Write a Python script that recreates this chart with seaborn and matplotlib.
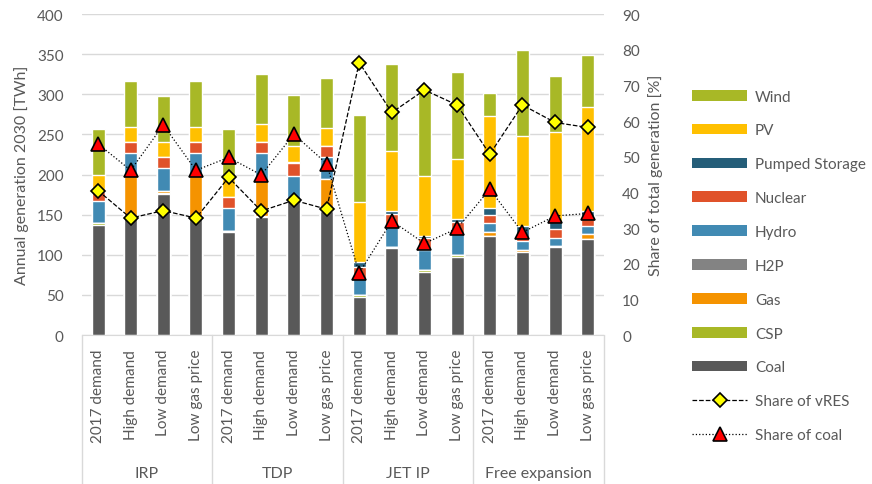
import numpy as np
import pandas as pd
import matplotlib
matplotlib.use('Agg')
from matplotlib import pyplot as plt
from matplotlib.patches import Patch
from matplotlib.lines import Line2D
import seaborn as sns

sns.set_style('white')
plt.rcParams['font.family'] = ['Lato', 'DejaVu Sans']
plt.rcParams['font.size'] = 11

# scenario layout
groups = ['IRP', 'TDP', 'JET IP', 'Free expansion']
cases = ['2017 demand', 'High demand', 'Low demand', 'Low gas price']

# annual generation per technology [TWh], 16 scenarios in order
coal = [137.6, 146.7, 175.8, 146.7, 128.0, 146.7, 169.6, 155.0,
        47.8, 108.0, 79.0, 97.7, 123.9, 103.0, 109.3, 119.7]
csp = [1.6, 0.0, 0.8, 0.0, 1.3, 1.2, 0.0, 1.0,
       1.7, 1.7, 1.6, 2.5, 0.0, 0.0, 0.0, 0.0]
gas = [0.0, 51.1, 3.0, 51.1, 0.0, 44.5, 0.0, 38.1,
       0.0, 0.0, 0.0, 0.0, 4.1, 2.6, 1.7, 6.3]
h2p = [0.0] * 16
hydro = [28.3, 29.1, 28.2, 29.1, 28.6, 34.1, 29.1, 28.3,
         20.3, 24.5, 25.8, 25.3, 11.2, 11.2, 10.4, 10.3]
nuclear = [11.2, 14.2, 14.6, 14.2, 13.8, 14.6, 15.3, 13.6,
           15.4, 16.7, 14.1, 15.8, 10.4, 4.6, 10.8, 8.3]
pumped = [0.0, 0.0, 0.0, 0.0, 0.0, 0.0, 1.2, 0.0,
          5.4, 4.1, 3.4, 3.3, 8.7, 14.1, 8.3, 10.4]
pv = [20.8, 18.3, 18.7, 18.3, 22.8, 22.0, 20.8, 22.0,
      75.7, 74.0, 74.8, 74.4, 114.4, 112.2, 112.2, 129.7]
wind = [57.0, 56.9, 56.9, 56.9, 61.9, 62.3, 63.3, 62.9,
        108.4, 109.0, 107.6, 108.5, 29.0, 108.1, 69.8, 64.5]

# shares of total generation [%]
share_vres = [40.5, 32.8, 34.9, 32.8, 44.2, 34.8, 37.8, 35.3,
              76.4, 62.4, 68.7, 64.5, 50.7, 64.5, 59.6, 58.2]
share_coal = [53.6, 46.2, 58.9, 46.2, 49.8, 44.9, 56.3, 48.1,
              17.4, 32.0, 25.7, 29.9, 40.9, 28.8, 33.4, 34.1]

techs = ['Coal', 'CSP', 'Gas', 'H2P', 'Hydro', 'Nuclear', 'Pumped Storage', 'PV', 'Wind']
colors = {'Coal': '#595959', 'CSP': '#A8B826', 'Gas': '#F59300', 'H2P': '#838383',
          'Hydro': '#418AB3', 'Nuclear': '#E0522A', 'Pumped Storage': '#255E79',
          'PV': '#FFC000', 'Wind': '#A8B826'}

df = pd.DataFrame({'Coal': coal, 'CSP': csp, 'Gas': gas, 'H2P': h2p, 'Hydro': hydro,
                   'Nuclear': nuclear, 'Pumped Storage': pumped, 'PV': pv, 'Wind': wind})
df['key'] = [g + '|' + c for g in groups for c in cases]
keys = list(df['key'])
cum = df[techs].cumsum(axis=1)
for t in techs:
    df['top_' + t] = cum[t]

fig, ax = plt.subplots(figsize=(8.72, 4.85), dpi=100)
fig.subplots_adjust(left=0.0937, right=0.6927, top=0.969, bottom=0.307)

# stacked bars by overplotting cumulative totals, top segment first
for t in techs[::-1]:
    sns.barplot(data=df, x='key', y='top_' + t, order=keys, color=colors[t],
                width=0.4, saturation=1, errorbar=None, ax=ax, zorder=2)

grey = '#595959'
ax.set_ylim(0, 400)
ax.set_yticks(range(0, 401, 50))
ax.grid(axis='y', color='#D9D9D9', lw=1)
ax.set_axisbelow(True)
ax.set_ylabel('Annual generation 2030 [TWh]', color=grey, fontsize=11.5, labelpad=6)
ax.set_xlabel('')
ax.set_xticks(range(16))
ax.set_xticklabels(cases * 4, rotation=90, color=grey)
ax.tick_params(axis='x', length=0, pad=10)
ax.tick_params(axis='y', length=0, pad=13, colors=grey)
for s in ['left', 'right', 'top']:
    ax.spines[s].set_visible(False)
ax.spines['bottom'].set_color('#D9D9D9')

ax2 = ax.twinx()
pos = np.arange(16)
sns.lineplot(x=pos, y=share_vres, ax=ax2, color='black', lw=0.9, linestyle='--',
             marker='D', markersize=7, markerfacecolor='#FFFF00',
             markeredgecolor='black', markeredgewidth=1.2, zorder=5)
sns.lineplot(x=pos, y=share_coal, ax=ax2, color='black', lw=0.9, linestyle=':',
             marker='^', markersize=10, markerfacecolor='#FF0000',
             markeredgecolor='black', markeredgewidth=1.2, zorder=5)
ax2.set_ylim(0, 90)
ax2.set_yticks(range(0, 91, 10))
ax2.set_ylabel('Share of total generation [%]', color=grey, fontsize=11.5, labelpad=6)
ax2.tick_params(axis='y', length=0, pad=13, colors=grey)
for s in ['left', 'right', 'top', 'bottom']:
    ax2.spines[s].set_visible(False)
ax.set_xlim(-0.5, 15.5)

# category box below the axis
trans = ax.get_xaxis_transform()
for b in [-0.5, 3.5, 7.5, 11.5, 15.5]:
    ax.plot([b, b], [0, -0.47], transform=trans, color='#D9D9D9', lw=1, clip_on=False)
for i, g in enumerate(groups):
    ax.text(1.5 + 4 * i, -0.43, g, transform=trans, ha='center', va='center',
            color=grey, fontsize=11.5)

legend_order = ['Wind', 'PV', 'Pumped Storage', 'Nuclear', 'Hydro', 'H2P', 'Gas', 'CSP', 'Coal']
handles = [Patch(facecolor=colors[t], edgecolor='none') for t in legend_order]
handles.append(Line2D([], [], color='black', lw=0.9, ls='--', marker='D', ms=7,
                      mfc='#FFFF00', mec='black', mew=1.2))
handles.append(Line2D([], [], color='black', lw=0.9, ls=':', marker='^', ms=10,
                      mfc='#FF0000', mec='black', mew=1.2))
labels = legend_order + ['Share of vRES', 'Share of coal']
leg = fig.legend(handles, labels, loc='upper left', bbox_to_anchor=(0.787, 0.826),
                 frameon=False, handlelength=3.6, handleheight=0.7,
                 labelspacing=1.3, handletextpad=0.5, borderaxespad=0)
for txt in leg.get_texts():
    txt.set_color(grey)

plt.savefig('out.png', dpi=100)
